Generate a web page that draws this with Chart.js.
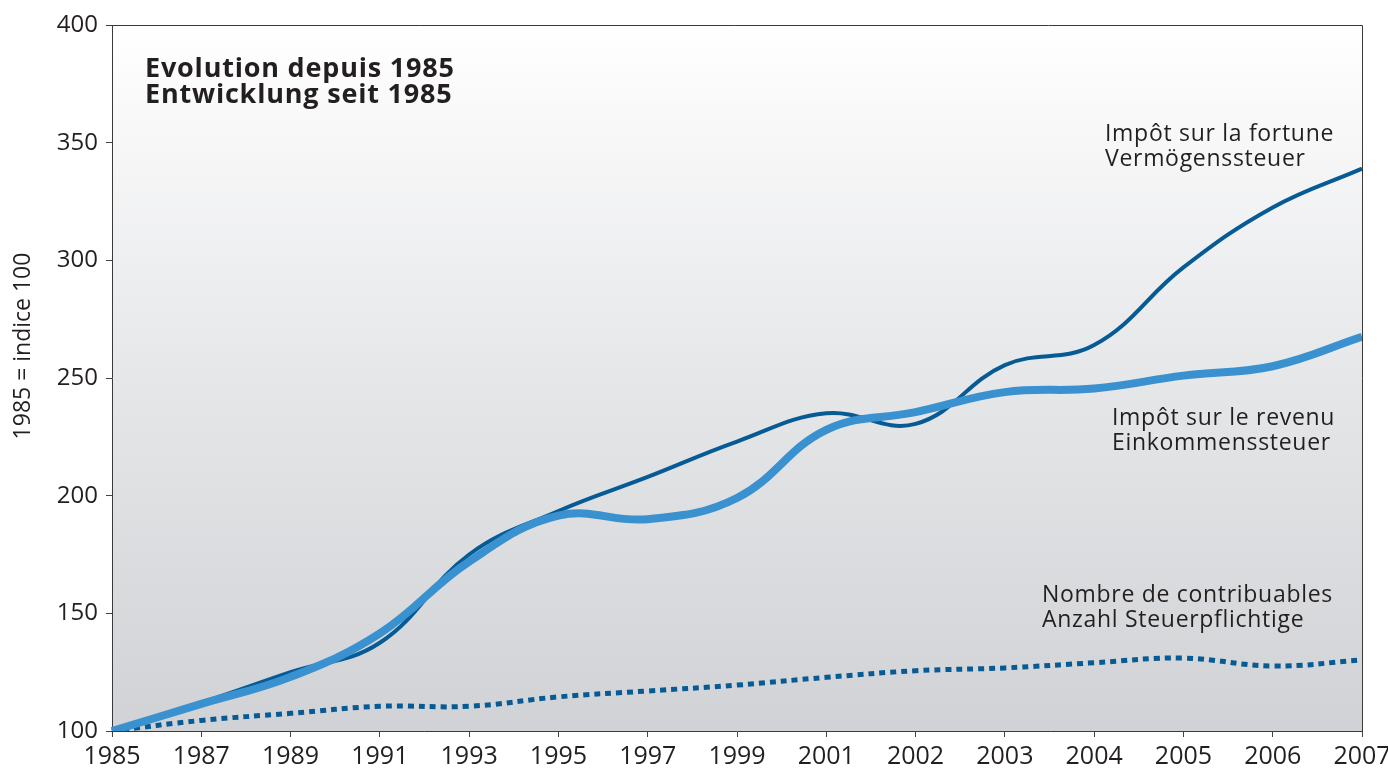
<!DOCTYPE html>
<html>
<head>
<meta charset="utf-8">
<script src="https://cdn.jsdelivr.net/npm/chart.js@4/dist/chart.umd.min.js"></script>
<style>
  html, body { margin: 0; padding: 0; background: #fff; }
  #wrap { width: 1388px; height: 769px; position: relative; }
</style>
</head>
<body>
<div id="wrap"><canvas id="chart"></canvas></div>
<script>
// Données (1985 = indice 100)
const years = ['1985', '1987', '1989', '1991', '1993', '1995', '1997', '1999', '2001', '2002', '2003', '2004', '2005', '2006', '2007'];
const impotFortune = [100, 112, 125, 137.5, 175, 193.5, 208, 223, 235, 230.5, 255.5, 264, 297, 322.5, 339];
const impotRevenu = [100, 111.5, 123, 141.5, 172, 191.5, 190, 199, 228, 235.5, 244, 245.5, 251, 255, 267.5];
const contribuables = [100, 104.5, 107.5, 110.5, 110.5, 114.5, 117, 119.5, 122.8, 125.6, 126.8, 129, 131, 127.6, 130.2];
const yTicks = [100, 150, 200, 250, 300, 350, 400];

const FONT = "'Open Sans', 'DejaVu Sans', sans-serif";
const TEXT = '#231f20';

// fond dégradé de la zone du graphique
const gradientBg = {
  id: 'gradientBg',
  beforeDraw(chart) {
    const { ctx, chartArea: a } = chart;
    const g = ctx.createLinearGradient(0, a.top, 0, a.bottom);
    g.addColorStop(0, '#ffffff');
    g.addColorStop(0.5, '#e6e7e9');
    g.addColorStop(1, '#d1d2d5');
    ctx.save();
    ctx.fillStyle = g;
    ctx.fillRect(a.left, a.top, a.right - a.left, a.bottom - a.top);
    ctx.restore();
  },
};

// cadre + textes
const annotations = {
  id: 'annotations',
  afterDraw(chart) {
    const { ctx, chartArea: a } = chart;
    ctx.save();
    ctx.strokeStyle = '#3a3a3a';
    ctx.lineWidth = 1;
    ctx.beginPath();
    ctx.moveTo(a.left - 5, a.top + 0.5);
    ctx.lineTo(a.right + 0.5, a.top + 0.5);
    ctx.lineTo(a.right + 0.5, a.bottom);
    ctx.stroke();

    ctx.fillStyle = TEXT;
    ctx.textAlign = 'left';
    ctx.textBaseline = 'alphabetic';

    ctx.font = 'bold 27px ' + FONT;
    ctx.letterSpacing = '0.8px';
    ctx.fillText('Evolution depuis 1985', 145, 77);
    ctx.fillText('Entwicklung seit 1985', 145, 103);

    ctx.font = '23px ' + FONT;
    ctx.letterSpacing = '0.7px';
    ctx.fillText('Impôt sur la fortune', 1105, 141);
    ctx.fillText('Vermögenssteuer', 1105, 166);
    ctx.fillText('Impôt sur le revenu', 1112, 425);
    ctx.fillText('Einkommenssteuer', 1112, 450);
    ctx.fillText('Nombre de contribuables', 1042, 602);
    ctx.fillText('Anzahl Steuerpflichtige', 1042, 627);

    // titre de l'axe y
    ctx.font = '23px ' + FONT;
    ctx.letterSpacing = '0px';
    ctx.translate(23, 346);
    ctx.rotate(-Math.PI / 2);
    ctx.textAlign = 'center';
    ctx.textBaseline = 'middle';
    ctx.fillText('1985 = indice 100', 0, 0);
    ctx.restore();
  },
};

Chart.defaults.font.family = FONT;
Chart.defaults.color = TEXT;

new Chart(document.getElementById('chart'), {
  type: 'line',
  data: {
    labels: years,
    datasets: [
      {
        label: 'Impôt sur le revenu',
        data: impotRevenu,
        borderColor: '#3a91d0',
        borderWidth: 8,
        tension: 0.4,
        pointRadius: 0,
        order: 0,
      },
      {
        label: 'Impôt sur la fortune',
        data: impotFortune,
        borderColor: '#065b95',
        borderWidth: 4,
        tension: 0.4,
        pointRadius: 0,
        order: 1,
      },
      {
        label: 'Nombre de contribuables',
        data: contribuables,
        borderColor: '#065b95',
        borderWidth: 5,
        borderDash: [6, 5],
        borderCapStyle: 'butt',
        tension: 0.4,
        pointRadius: 0,
        order: 2,
      },
    ],
  },
  options: {
    responsive: true,
    maintainAspectRatio: false,
    animation: false,
    layout: { padding: { top: 25, right: 26, left: 0, bottom: 0 } },
    plugins: {
      legend: { display: false },
      tooltip: { enabled: false },
    },
    scales: {
      x: {
        type: 'category',
        offset: false,
        grid: { drawOnChartArea: false, drawTicks: true, tickLength: 6, color: '#444' },
        border: { display: true, color: '#3a3a3a', width: 1 },
        ticks: { font: { size: 25 }, color: TEXT, padding: 5, maxRotation: 0, autoSkip: false },
        afterFit(scale) {
          scale.height = 38;
          scale.paddingLeft = 0;
          scale.paddingRight = 0;
        },
      },
      y: {
        min: 100,
        max: 400,
        afterBuildTicks(scale) {
          scale.ticks = yTicks.map((v) => ({ value: v }));
        },
        grid: { drawOnChartArea: false, drawTicks: true, tickLength: 6, color: '#444' },
        border: { display: true, color: '#3a3a3a', width: 1 },
        ticks: { font: { size: 24 }, color: TEXT, padding: 8 },
        afterFit(scale) {
          scale.width = 112;
        },
      },
    },
  },
  plugins: [gradientBg, annotations],
});
</script>
</body>
</html>
